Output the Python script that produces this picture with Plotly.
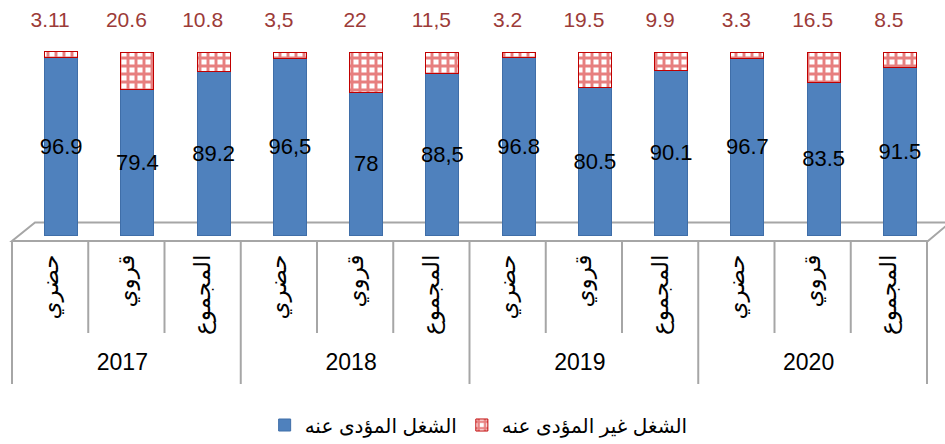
import plotly.graph_objects as go

years = ["2017", "2018", "2019", "2020"]
areas = ["حضري", "قروي", "المجموع"]
paid = [96.9, 79.4, 89.2, 96.5, 78, 88.5, 96.8, 80.5, 90.1, 96.7, 83.5, 91.5]
paid_labels = ["96.9", "79.4", "89.2", "96,5", "78", "88,5", "96.8", "80.5", "90.1", "96.7", "83.5", "91.5"]
unpaid = [3.11, 20.6, 10.8, 3.5, 22, 11.5, 3.2, 19.5, 9.9, 3.3, 16.5, 8.5]
unpaid_labels = ["3.11", "20.6", "10.8", "3,5", "22", "11,5", "3.2", "19.5", "9.9", "3.3", "16.5", "8.5"]
series_names = ["الشغل المؤدى عنه", "الشغل غير المؤدى عنه"]

W, H = 945, 444
ML, MR, MT = 12, 18, 30
AXIS_PX = 241
MB = H - AXIS_PX
PH = H - MT - MB
PW = W - ML - MR
SCALE = 1.83  # px per unit
ymin = -(AXIS_PX - 235) / SCALE
ymax = ymin + PH / SCALE

x = [[yr for yr in years for _ in areas], [a for _ in years for a in areas]]
totals = [p + u for p, u in zip(paid, unpaid)]
n = len(paid)

BAR_W = 0.43
BAR_OFF = -BAR_W / 2 + 11 / (PW / n)

fig = go.Figure()
fig.add_trace(go.Bar(
    x=x, y=paid, name=series_names[0],
    marker=dict(color="#4F81BD", line=dict(color="#3F6EA8", width=1)),
    width=BAR_W, offset=BAR_OFF,
    text=paid_labels, textposition="inside", insidetextanchor="middle", textangle=0,
    textfont=dict(color="black", size=22, family="Liberation Sans"),
    constraintext="none", cliponaxis=False,
))
fig.add_trace(go.Bar(
    x=x, y=unpaid, name=series_names[1],
    marker=dict(color="white", line=dict(color="#C00000", width=1),
                pattern=dict(shape="+", fgcolor="#D00000", bgcolor="white",
                             size=8, solidity=0.6)),
    width=BAR_W, offset=BAR_OFF, textposition="none",
))
fig.add_trace(go.Scatter(
    x=x, y=totals, mode="markers+text", text=unpaid_labels,
    textposition="top center", showlegend=False, hoverinfo="skip",
    marker=dict(size=30, color="rgba(0,0,0,0)"),
    textfont=dict(color="#9C3B38", size=21, family="Liberation Sans"),
    cliponaxis=False,
))

def px2paper_x(px):
    return (px - ML) / PW

def px2paper_y(py):
    return (AXIS_PX - py) / PH

shapes = []
fx = [px2paper_x(v) for v in (12, 35, 950, 928)]
fy = [px2paper_y(v) for v in (241, 222.5, 222.5, 241)]
path = "M {} {} L {} {} L {} {} L {} {} Z".format(fx[0], fy[0], fx[1], fy[1], fx[2], fy[2], fx[3], fy[3])
shapes.append(dict(type="path", path=path, xref="paper", yref="paper",
                   line=dict(color="#A6A6A6", width=2), fillcolor="white", layer="below"))
for i in range(n + 1):
    bottom = px2paper_y(384) if i % len(areas) == 0 else px2paper_y(333)
    shapes.append(dict(type="line", xref="paper", yref="paper", x0=i / n, x1=i / n,
                       y0=0, y1=bottom, line=dict(color="#A6A6A6", width=2)))

fig.update_layout(
    width=W, height=H,
    margin=dict(l=ML, r=MR, t=MT, b=MB, autoexpand=False),
    paper_bgcolor="white", plot_bgcolor="rgba(0,0,0,0)",
    barmode="stack",
    showlegend=True,
    legend=dict(orientation="h", x=0.51, xanchor="center", y=px2paper_y(425), yanchor="middle",
                traceorder="normal", font=dict(size=20, family="Liberation Sans, DejaVu Sans", color="black"),
                itemwidth=30),
    shapes=shapes,
    font=dict(family="Liberation Sans, DejaVu Sans", color="black"),
)
fig.update_xaxes(type="multicategory", showline=False, showgrid=False,
                 ticks="", ticklabelstandoff=8,
                 showdividers=False, tickangle=-90, automargin=False,
                 range=[-0.5, n - 0.5],
                 tickfont=dict(size=23, family="Liberation Sans, DejaVu Sans", color="black"))
fig.update_yaxes(range=[ymin, ymax], visible=False, showgrid=False, zeroline=False)

fig.write_html("out.html", post_script="document.body.style.margin='0';",
               config={"displayModeBar": False})
